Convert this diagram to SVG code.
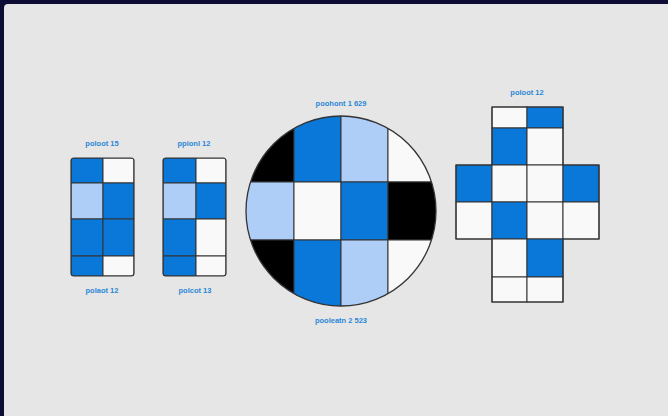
<svg xmlns="http://www.w3.org/2000/svg" width="668" height="416" viewBox="0 0 668 416">
<style>
.lbl{font-family:"Liberation Sans",Arial,sans-serif;font-size:7.5px;font-weight:bold;fill:#2a86d6;text-anchor:middle}
.b{fill:#0a78d8}.l{fill:#aecdf7}.w{fill:#f9f9f9}.k{fill:#000}
.g{stroke:#333;stroke-width:1}
.frame{fill:none;stroke:#333;stroke-width:1.2}
</style>
<defs>
<clipPath id="cc"><circle cx="341" cy="211" r="95"/></clipPath>
<clipPath id="r1"><rect x="71" y="158" width="63" height="118" rx="3"/></clipPath>
<clipPath id="r2"><rect x="163" y="158" width="63" height="118" rx="3"/></clipPath>
</defs>
<rect width="668" height="416" fill="#0c0c35"/>
<rect x="4" y="4" width="680" height="430" rx="4" fill="#e6e6e6"/>

<g id="panel1">
<text class="lbl" x="102" y="146">poloot 15</text>
<g clip-path="url(#r1)" class="g">
<rect class="b" x="71" y="158" width="32" height="25"/><rect class="w" x="103" y="158" width="31" height="25"/>
<rect class="l" x="71" y="183" width="32" height="36"/><rect class="b" x="103" y="183" width="31" height="36"/>
<rect class="b" x="71" y="219" width="32" height="37"/><rect class="b" x="103" y="219" width="31" height="37"/>
<rect class="b" x="71" y="256" width="32" height="20"/><rect class="w" x="103" y="256" width="31" height="20"/>
</g>
<rect class="frame" x="71" y="158" width="63" height="118" rx="3"/>
<text class="lbl" x="102" y="293">polaot 12</text>
</g>

<g id="panel2">
<text class="lbl" x="194" y="146">ppionl 12</text>
<g clip-path="url(#r2)" class="g">
<rect class="b" x="163" y="158" width="33" height="25"/><rect class="w" x="196" y="158" width="30" height="25"/>
<rect class="l" x="163" y="183" width="33" height="36"/><rect class="b" x="196" y="183" width="30" height="36"/>
<rect class="b" x="163" y="219" width="33" height="37"/><rect class="w" x="196" y="219" width="30" height="37"/>
<rect class="b" x="163" y="256" width="33" height="20"/><rect class="w" x="196" y="256" width="30" height="20"/>
</g>
<rect class="frame" x="163" y="158" width="63" height="118" rx="3"/>
<text class="lbl" x="195" y="293">polcot 13</text>
</g>

<g id="circle">
<text class="lbl" x="341" y="106">poohont 1 629</text>
<g clip-path="url(#cc)" class="g">
<rect class="k" x="240" y="110" width="54" height="72"/><rect class="b" x="294" y="110" width="47" height="72"/><rect class="l" x="341" y="110" width="47" height="72"/><rect class="w" x="388" y="110" width="54" height="72"/>
<rect class="l" x="240" y="182" width="54" height="58"/><rect class="w" x="294" y="182" width="47" height="58"/><rect class="b" x="341" y="182" width="47" height="58"/><rect class="k" x="388" y="182" width="54" height="58"/>
<rect class="k" x="240" y="240" width="54" height="72"/><rect class="b" x="294" y="240" width="47" height="72"/><rect class="l" x="341" y="240" width="47" height="72"/><rect class="w" x="388" y="240" width="54" height="72"/>
</g>
<circle cx="341" cy="211" r="95" fill="none" stroke="#333" stroke-width="1.3"/>
<text class="lbl" x="341" y="323">pooleatn 2 523</text>
</g>

<g id="cross" class="g">
<text class="lbl" x="527" y="95" stroke="none">poloot 12</text>
<rect class="w" x="492" y="107" width="35" height="21"/><rect class="b" x="527" y="107" width="36" height="21"/>
<rect class="b" x="492" y="128" width="35" height="37"/><rect class="w" x="527" y="128" width="36" height="37"/>
<rect class="b" x="456" y="165" width="36" height="37"/><rect class="w" x="492" y="165" width="35" height="37"/><rect class="w" x="527" y="165" width="36" height="37"/><rect class="b" x="563" y="165" width="36" height="37"/>
<rect class="w" x="456" y="202" width="36" height="37"/><rect class="b" x="492" y="202" width="35" height="37"/><rect class="w" x="527" y="202" width="36" height="37"/><rect class="w" x="563" y="202" width="36" height="37"/>
<rect class="w" x="492" y="239" width="35" height="38"/><rect class="b" x="527" y="239" width="36" height="38"/>
<rect class="w" x="492" y="277" width="35" height="25"/><rect class="w" x="527" y="277" width="36" height="25"/>
<path d="M492 107H563V165H599V239H563V302H492V239H456V165H492Z" fill="none" stroke="#333" stroke-width="1.2" stroke-linejoin="round"/>
</g>
</svg>
